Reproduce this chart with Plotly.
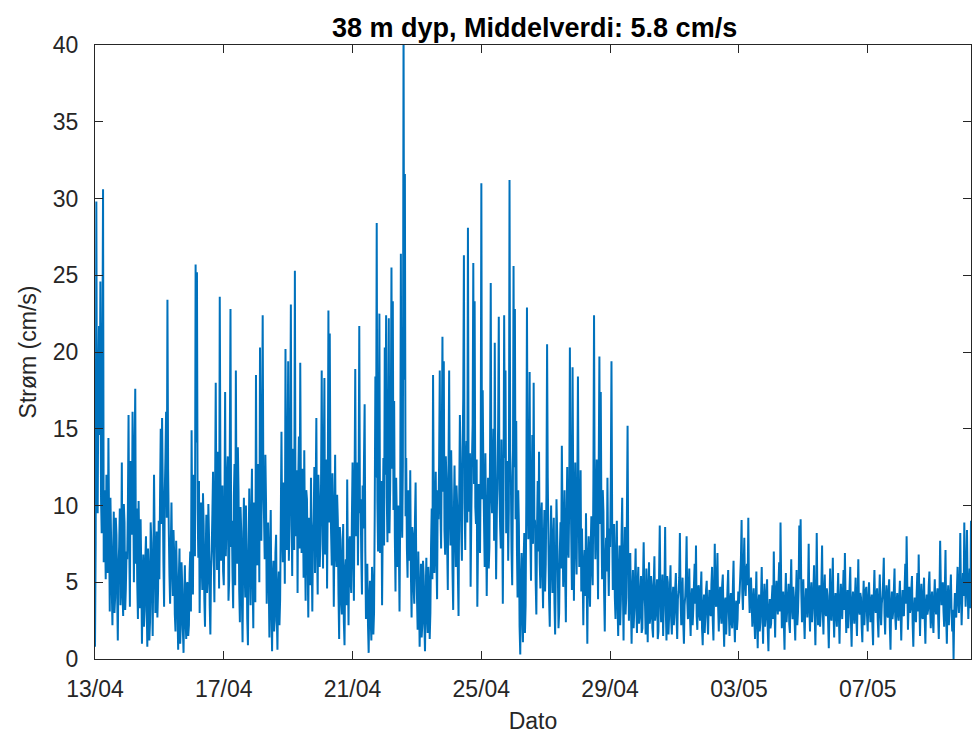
import pandas as pd
import plotly.graph_objects as go

# Current speed (cm/s) at 38 m depth, half-hourly.
# For each day: readings on the full hour (hh:00) and on the half hour (hh:30).
d13_04 = [0.8, 29.8, 9.5, 21.7, 24.6, 8.2, 30.6, 11.0, 5.2, 9.0, 14.4, 3.1, 7.8, 2.2, 9.6, 4.0, 8.1, 1.2, 7.3, 3.5, 12.8, 2.8, 8.9, 4.6]
h13_04 = [7.6, 12.3, 18.2, 14.6, 10.4, 19.5, 6.3, 8.4, 12.0, 5.6, 8.8, 10.5, 4.6, 6.9, 3.0, 9.2, 4.4, 6.0, 9.8, 5.9, 4.3, 10.1, 3.2, 7.0]
d14_04 = [6.5, 15.9, 3.4, 11.2, 16.1, 5.0, 17.6, 9.8, 2.6, 7.4, 9.1, 1.0, 6.8, 3.2, 8.0, 0.8, 5.9, 2.4, 7.6, 1.5, 12.0, 3.0, 8.3, 4.4]
h14_04 = [9.7, 7.8, 12.9, 8.1, 11.5, 13.0, 6.2, 4.9, 10.3, 3.3, 5.8, 4.7, 2.1, 6.5, 3.7, 7.2, 1.2, 8.9, 4.2, 6.4, 7.3, 5.8, 2.7, 9.0]
d15_04 = [5.2, 15.0, 15.7, 6.3, 10.8, 16.1, 23.4, 8.5, 3.6, 10.2, 4.1, 6.9, 1.8, 5.5, 0.6, 7.2, 2.4, 4.8, 0.4, 6.1, 1.3, 5.0, 2.2, 7.0]
h15_04 = [10.7, 8.8, 11.2, 3.4, 13.1, 9.2, 12.4, 5.4, 7.3, 6.0, 8.4, 2.9, 7.7, 3.0, 5.3, 1.0, 6.3, 1.9, 3.8, 2.6, 4.9, 1.5, 5.6, 3.1]
d16_04 = [14.9, 4.2, 9.3, 25.7, 25.2, 6.6, 3.0, 10.2, 4.5, 8.7, 2.1, 9.4, 5.2, 8.0, 1.6, 7.1, 12.2, 3.7, 18.0, 5.8, 9.9, 23.6, 6.4, 11.3]
h16_04 = [7.9, 12.0, 6.7, 14.1, 9.8, 11.6, 7.5, 6.2, 10.8, 3.9, 6.8, 4.3, 10.1, 3.5, 5.9, 9.5, 6.5, 10.7, 8.9, 13.5, 4.6, 12.1, 8.7, 5.7]
d17_04 = [4.8, 17.4, 8.6, 13.2, 5.1, 22.8, 9.0, 3.3, 12.7, 18.8, 6.2, 10.9, 2.4, 8.3, 1.1, 10.5, 4.0, 7.2, 0.9, 11.1, 3.5, 12.4, 2.0, 8.4]
h17_04 = [9.5, 6.7, 11.9, 3.8, 14.0, 7.3, 5.6, 10.6, 4.8, 9.4, 13.8, 4.5, 9.9, 3.9, 7.6, 5.9, 10.0, 2.6, 6.8, 7.0, 9.3, 5.2, 10.2, 3.7]
d18_04 = [18.5, 6.1, 11.4, 20.3, 7.7, 22.4, 9.2, 13.3, 3.6, 8.9, 1.4, 9.7, 0.5, 6.4, 2.5, 8.1, 0.6, 5.7, 3.9, 14.8, 6.3, 9.5, 20.2, 7.1]
h18_04 = [9.2, 12.7, 5.0, 10.5, 14.9, 11.1, 6.5, 10.2, 7.0, 5.2, 7.3, 3.1, 5.3, 1.8, 6.9, 2.9, 4.6, 2.2, 9.1, 8.4, 11.5, 4.9, 10.7, 13.0]
d19_04 = [19.4, 8.8, 23.1, 5.4, 12.6, 25.3, 10.1, 4.3, 14.5, 19.3, 6.9, 9.8, 13.6, 3.8, 10.4, 2.7, 8.6, 11.8, 3.1, 9.0, 5.6, 15.7, 4.2, 10.3]
h19_04 = [6.4, 14.2, 9.8, 13.7, 7.1, 8.0, 12.3, 11.6, 7.2, 10.6, 12.4, 5.3, 7.9, 11.0, 6.5, 9.2, 4.8, 7.0, 8.1, 12.5, 10.9, 7.3, 12.0, 6.0]
d20_04 = [7.5, 18.8, 5.9, 18.3, 9.7, 4.6, 22.7, 21.2, 8.2, 12.1, 3.4, 13.3, 6.0, 9.1, 1.3, 7.8, 2.9, 8.8, 0.9, 6.5, 11.7, 2.2, 8.0, 4.3]
h20_04 = [11.4, 9.9, 12.6, 6.8, 13.0, 10.8, 8.9, 11.3, 6.1, 9.0, 8.3, 7.1, 10.7, 4.2, 8.6, 3.8, 6.7, 2.4, 5.8, 3.5, 6.0, 7.4, 5.1, 9.2]
d21_04 = [12.8, 3.8, 18.9, 9.3, 6.1, 21.7, 10.4, 4.2, 8.5, 16.6, 2.6, 6.2, 0.4, 5.1, 1.2, 4.6, 3.0, 18.4, 28.4, 7.0, 22.5, 9.8, 3.5, 13.1]
h21_04 = [7.0, 11.6, 8.0, 12.8, 10.7, 9.5, 6.6, 11.3, 12.9, 7.0, 5.0, 2.2, 4.0, 2.6, 6.0, 1.6, 9.2, 11.8, 10.3, 14.1, 6.9, 11.6, 8.8, 7.4]
d22_04 = [20.3, 22.4, 7.6, 22.2, 11.0, 25.5, 23.3, 16.8, 4.4, 9.2, 10.0, 3.1, 26.4, 7.9, 41.5, 31.6, 13.1, 5.3, 9.4, 12.3, 2.7, 8.1, 3.6, 11.5]
h22_04 = [12.0, 10.5, 14.4, 8.2, 15.6, 12.4, 9.7, 8.0, 11.8, 6.0, 7.3, 9.5, 10.8, 12.6, 18.2, 9.3, 7.2, 11.0, 6.4, 5.5, 8.6, 4.7, 9.0, 5.8]
d23_04 = [4.1, 7.0, 0.8, 6.2, 2.3, 5.4, 0.5, 6.6, 1.7, 4.9, 3.0, 9.8, 18.5, 5.6, 12.2, 3.9, 9.1, 18.8, 7.2, 21.0, 19.4, 6.8, 11.7, 4.5]
h23_04 = [1.9, 4.5, 3.5, 1.4, 6.4, 2.3, 4.2, 2.9, 6.0, 1.3, 7.4, 5.2, 10.4, 8.1, 6.6, 11.0, 12.7, 9.7, 14.0, 10.9, 8.4, 13.2, 7.5, 12.4]
d24_04 = [18.8, 7.4, 10.6, 3.2, 12.6, 6.0, 9.9, 2.8, 15.9, 8.3, 13.5, 26.3, 7.1, 14.2, 28.1, 9.6, 4.7, 12.9, 25.8, 23.3, 8.8, 3.4, 11.4, 6.9]
h24_04 = [9.5, 13.6, 5.7, 9.4, 8.5, 11.3, 5.5, 10.6, 12.3, 6.4, 17.0, 10.2, 12.8, 8.9, 11.7, 13.4, 9.2, 15.3, 11.4, 9.9, 13.0, 7.4, 8.7, 12.6]
d25_04 = [31.0, 17.5, 8.9, 13.4, 4.1, 11.8, 7.3, 24.5, 9.5, 15.0, 20.6, 5.2, 12.0, 22.3, 8.6, 14.3, 3.6, 22.4, 18.8, 10.1, 6.4, 31.2, 11.9, 4.8]
h25_04 = [10.4, 12.2, 6.0, 9.1, 8.6, 5.9, 13.7, 10.8, 12.3, 7.7, 10.9, 9.3, 15.1, 11.0, 7.2, 9.9, 10.4, 13.1, 8.2, 12.9, 9.8, 13.6, 7.0, 10.6]
d26_04 = [25.6, 22.8, 15.5, 4.0, 8.7, 0.3, 6.9, 1.1, 8.2, 3.5, 22.9, 7.8, 18.7, 5.1, 14.6, 18.0, 9.0, 2.9, 11.6, 13.5, 4.6, 10.2, 3.3, 9.7]
h26_04 = [12.5, 9.1, 7.4, 11.0, 2.1, 5.1, 3.0, 6.4, 1.7, 10.2, 12.1, 9.4, 8.1, 10.9, 7.5, 9.1, 5.0, 8.4, 7.0, 6.3, 9.3, 5.8, 7.6, 4.4]
d27_04 = [6.2, 20.5, 7.6, 2.1, 10.0, 4.3, 9.2, 1.6, 10.4, 5.8, 3.0, 8.9, 13.9, 4.7, 11.0, 2.4, 12.5, 6.6, 20.3, 8.1, 19.0, 3.8, 12.8, 5.5]
h27_04 = [10.7, 11.8, 3.9, 7.1, 6.6, 7.8, 3.6, 5.9, 8.2, 2.0, 7.0, 5.9, 9.1, 7.6, 5.4, 8.9, 7.3, 10.1, 11.9, 4.5, 10.7, 9.4, 7.6, 10.2]
d28_04 = [18.4, 6.0, 12.3, 8.5, 2.2, 7.1, 9.5, 1.0, 8.0, 3.4, 9.3, 4.8, 22.4, 6.5, 13.0, 3.9, 19.7, 17.4, 5.2, 9.6, 1.8, 7.9, 11.8, 4.1]
h28_04 = [10.2, 8.9, 4.4, 5.7, 6.0, 4.1, 5.3, 6.2, 4.9, 7.3, 6.1, 11.4, 9.6, 10.2, 7.8, 12.6, 8.8, 9.2, 11.0, 4.3, 6.4, 5.7, 6.8, 8.5]
d29_04 = [7.3, 19.4, 4.5, 8.8, 2.6, 9.0, 1.5, 7.4, 3.8, 10.5, 1.2, 8.6, 4.0, 15.2, 2.5, 6.9, 1.0, 5.8, 3.2, 7.2, 1.7, 6.0, 2.8, 5.4]
h29_04 = [11.8, 9.0, 6.3, 4.0, 6.8, 3.6, 5.7, 2.2, 8.0, 4.6, 6.1, 2.9, 9.4, 6.6, 4.8, 3.5, 4.2, 2.0, 5.1, 3.4, 4.9, 2.3, 4.4, 1.7]
d30_04 = [2.0, 7.6, 3.5, 5.9, 1.1, 6.3, 2.7, 4.8, 1.4, 6.7, 3.0, 5.2, 1.8, 8.7, 2.4, 5.5, 3.6, 8.6, 1.2, 5.0, 2.9, 6.1, 1.6, 4.7]
h30_04 = [5.0, 4.4, 1.6, 3.7, 4.5, 2.3, 5.4, 2.0, 4.9, 2.5, 4.4, 1.3, 5.6, 4.1, 3.8, 1.5, 4.6, 3.2, 5.4, 1.6, 4.4, 2.6, 3.9, 2.2]
d01_05 = [3.1, 5.6, 1.3, 4.4, 8.2, 2.2, 5.3, 1.0, 4.1, 8.0, 2.6, 5.9, 1.5, 4.6, 3.3, 6.2, 7.4, 1.9, 4.8, 2.5, 5.7, 0.9, 4.2, 3.0]
h01_05 = [4.6, 2.7, 3.9, 5.3, 4.0, 4.0, 2.4, 3.5, 5.4, 3.8, 4.2, 2.9, 3.9, 2.2, 4.9, 3.6, 2.8, 4.6, 2.9, 4.4, 2.0, 3.4, 1.7, 4.5]
d02_05 = [5.1, 1.6, 4.5, 2.8, 6.0, 1.2, 7.5, 3.4, 6.9, 1.8, 4.7, 2.3, 5.5, 0.8, 4.0, 3.1, 5.8, 1.5, 4.3, 2.0, 6.4, 1.1, 3.8, 2.6]
h02_05 = [2.7, 3.6, 3.1, 4.9, 2.5, 4.3, 4.0, 5.2, 3.4, 4.1, 2.9, 4.8, 2.6, 3.7, 1.6, 4.6, 3.0, 3.8, 2.4, 4.7, 2.6, 3.3, 1.9, 4.4]
d03_05 = [3.6, 5.4, 9.05, 3.2, 7.9, 4.1, 6.2, 9.2, 3.0, 5.3, 2.1, 4.6, 1.3, 5.7, 0.7, 4.2, 2.4, 6.0, 1.0, 4.9, 2.7, 5.2, 0.5, 3.9]
h03_05 = [4.3, 6.6, 4.4, 5.8, 5.0, 5.7, 4.8, 4.6, 4.4, 3.7, 3.6, 2.6, 3.8, 2.5, 3.5, 1.8, 4.1, 3.2, 3.6, 2.1, 4.3, 1.9, 3.2, 2.0]
d04_05 = [2.3, 4.8, 7.0, 1.4, 5.1, 2.9, 6.3, 8.9, 2.0, 4.4, 0.6, 5.6, 3.2, 4.9, 1.7, 6.5, 2.6, 4.0, 1.2, 5.8, 3.0, 8.7, 9.1, 2.4]
h04_05 = [3.9, 2.6, 3.5, 4.2, 3.6, 4.8, 3.1, 4.9, 3.5, 2.3, 3.9, 2.4, 4.0, 2.3, 4.5, 3.5, 4.7, 2.5, 4.1, 2.2, 4.6, 5.2, 4.4, 3.6]
d05_05 = [5.2, 1.3, 4.6, 2.7, 7.5, 1.8, 5.0, 3.4, 6.1, 0.9, 8.2, 2.2, 4.8, 3.0, 7.4, 1.6, 5.5, 2.8, 4.1, 0.7, 5.9, 2.5, 6.6, 1.4]
h05_05 = [2.8, 3.4, 3.9, 4.4, 3.3, 4.1, 2.4, 4.4, 2.9, 3.7, 4.2, 3.6, 2.1, 5.0, 3.2, 4.2, 3.0, 4.6, 2.4, 3.4, 2.8, 4.3, 3.1, 3.6]
d06_05 = [4.3, 2.1, 5.6, 1.0, 4.9, 2.6, 5.8, 6.9, 1.7, 4.5, 3.1, 6.0, 0.8, 4.4, 2.3, 5.3, 1.5, 6.5, 2.9, 4.0, 1.1, 5.1, 3.3, 4.7]
h06_05 = [3.0, 4.1, 2.9, 3.5, 3.4, 4.3, 3.2, 4.0, 3.3, 2.0, 4.7, 2.5, 3.6, 3.0, 4.1, 2.7, 4.0, 3.2, 4.3, 2.1, 3.6, 2.2, 4.5, 2.8]
d07_05 = [1.8, 5.0, 2.4, 4.2, 0.9, 5.8, 3.0, 4.6, 1.4, 5.5, 2.2, 4.1, 6.6, 1.6, 4.8, 2.7, 5.2, 0.6, 4.4, 3.1, 5.9, 1.9, 4.3, 2.5]
h07_05 = [3.9, 3.4, 3.7, 2.2, 4.1, 3.5, 4.2, 2.5, 3.9, 3.3, 3.6, 5.1, 3.0, 3.7, 2.9, 4.4, 2.1, 3.6, 2.6, 4.5, 2.8, 3.6, 3.0, 4.0]
d08_05 = [5.1, 1.2, 4.5, 2.8, 6.2, 8.0, 1.9, 4.7, 3.3, 5.4, 0.8, 4.0, 2.4, 5.6, 6.8, 1.5, 4.9, 2.6, 5.3, 1.0, 4.2, 3.2, 5.7, 2.0]
h08_05 = [3.2, 3.3, 2.9, 4.6, 3.6, 4.9, 3.5, 3.0, 4.5, 2.3, 3.2, 2.7, 4.3, 3.1, 3.9, 3.6, 2.8, 4.2, 2.6, 3.5, 2.9, 4.8, 3.4, 3.8]
d09_05 = [4.4, 1.7, 5.2, 2.9, 4.6, 1.3, 7.7, 3.5, 5.0, 2.1, 7.1, 1.0, 4.8, 3.6, 5.5, 1.8, 0.0, 4.3, 2.7, 6.0, 3.0, 8.2, 2.2, 5.6]
h09_05 = [2.5, 3.9, 3.4, 4.0, 2.8, 4.3, 4.9, 4.2, 3.1, 4.6, 2.8, 3.7, 2.2, 4.3, 3.0, 3.2, 2.9, 3.1, 4.5, 3.8, 4.7, 4.4, 3.9, 4.1]
d10_05 = [8.9, 3.4, 8.4, 2.6, 5.9, 9.0]
h10_05 = [5.6, 5.3, 4.7, 4.4, 3.3]

full_hour = [d13_04, d14_04, d15_04, d16_04, d17_04, d18_04, d19_04, d20_04,
             d21_04, d22_04, d23_04, d24_04, d25_04, d26_04, d27_04, d28_04,
             d29_04, d30_04, d01_05, d02_05, d03_05, d04_05, d05_05, d06_05,
             d07_05, d08_05, d09_05, d10_05]
half_hour = [h13_04, h14_04, h15_04, h16_04, h17_04, h18_04, h19_04, h20_04,
             h21_04, h22_04, h23_04, h24_04, h25_04, h26_04, h27_04, h28_04,
             h29_04, h30_04, h01_05, h02_05, h03_05, h04_05, h05_05, h06_05,
             h07_05, h08_05, h09_05, h10_05]

start = pd.Timestamp("2021-04-13 00:00")

# Build the time series: day k, hour h -> start + k days + h hours (+30 min)
records = []
for k, (on_hour, on_half) in enumerate(zip(full_hour, half_hour)):
    day0 = start + pd.Timedelta(days=k)
    for h, v in enumerate(on_hour):
        records.append((day0 + pd.Timedelta(hours=h), v))
    for h, v in enumerate(on_half):
        records.append((day0 + pd.Timedelta(hours=h, minutes=30), v))
series = pd.DataFrame(records, columns=["time", "speed"]).sort_values("time")

tick_labels = ["13/04", "17/04", "21/04", "25/04", "29/04", "03/05", "07/05"]
tick_dates = pd.date_range(start, periods=len(tick_labels), freq="4D")
y_ticks = [0, 5, 10, 15, 20, 25, 30, 35, 40]

title_text = "38 m dyp, Middelverdi: 5.8 cm/s"

ink = "#262626"
font_family = "Liberation Sans, Arial, Helvetica, sans-serif"

fig = go.Figure()
fig.add_trace(go.Scatter(
    x=series["time"], y=series["speed"], mode="lines",
    line=dict(color="#0072BD", width=2.0, simplify=False),
    hoverinfo="x+y", showlegend=False,
))

fig.update_layout(
    width=972, height=736,
    margin=dict(l=95, r=1, t=45, b=77),
    paper_bgcolor="white", plot_bgcolor="white",
    font=dict(family=font_family, size=23, color=ink),
    title=dict(text="<b>" + title_text + "</b>", x=0.55, xanchor="center",
               y=1 - 28 / 736, yanchor="middle", yref="container",
               font=dict(size=27, color="#000000")),
)

fig.update_xaxes(
    type="date", range=[series["time"].min(), series["time"].max()],
    tickvals=tick_dates, ticktext=tick_labels,
    ticks="inside", ticklen=8, tickwidth=1, tickcolor=ink,
    showline=True, linecolor=ink, linewidth=1, mirror="ticks",
    showgrid=False, zeroline=False, ticklabelstandoff=9,
    title=dict(text="Dato", standoff=12, font=dict(size=23)),
)
fig.update_yaxes(
    range=[0, 40], tickvals=y_ticks,
    ticks="inside", ticklen=8, tickwidth=1, tickcolor=ink,
    showline=True, linecolor=ink, linewidth=1, mirror="ticks",
    showgrid=False, zeroline=False, ticklabelstandoff=11,
    title=dict(text="Strøm (cm/s)", standoff=9, font=dict(size=23)),
)

fig.write_html("out.html")
